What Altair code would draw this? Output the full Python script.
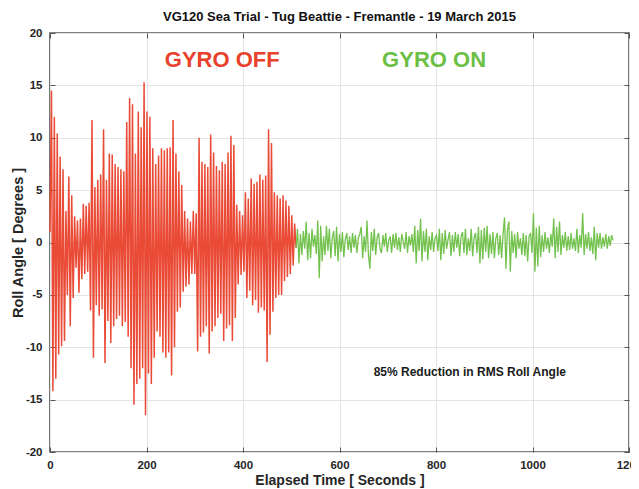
import altair as alt
import pandas as pd

# ---------------- data ----------------
SAMPLE_S = 3          # sample spacing of the roll record, seconds
RED_START = 0         # gyro off record starts (s)
GREEN_START = 510     # gyro on record starts (s)

red_roll = [
    1.0, 14.5, -14.2, 12.0, -13.0, 10.4, -10.7, 8.2, -9.9, 7.0,
    -9.4, 3.0, -5.0, 6.3, -8.0, 4.5, -5.3, 2.5, -2.4, 2.1,
    -4.8, 2.3, -3.5, 3.7, -3.0, 3.5, -2.8, 3.8, -6.5, 11.7,
    -11.0, 5.3, -6.0, 6.0, -7.0, 6.5, -6.4, 10.8, -11.5, 6.0,
    -7.5, 8.5, -9.6, 8.4, -8.0, 7.5, -7.3, 7.2, -7.0, 7.0,
    -8.0, 6.8, -7.6, 11.5, -9.0, 13.8, -12.0, 13.2, -15.5, 8.5,
    -13.5, 12.5, -13.0, 11.0, -12.0, 15.3, -16.5, 12.5, -12.5, 12.0,
    -13.5, 9.0, -11.0, 7.5, -8.5, 8.3, -9.0, 9.0, -10.5, 8.8,
    -11.0, 9.0, -10.5, 9.1, -12.7, 11.7, -10.0, 8.5, -6.6, 6.8,
    -6.2, 5.5, -4.7, 3.0, -4.2, 2.3, -4.0, 2.0, -3.0, 3.0,
    -3.0, 2.8, -10.4, 10.0, -9.0, 7.7, -8.6, 7.5, -8.0, 7.2,
    -10.6, 10.3, -8.5, 8.6, -8.0, 7.3, -7.2, 6.9, -6.8, 7.7,
    -9.4, 7.5, -8.2, 8.6, -7.9, 10.2, -9.4, 9.3, -7.2, 3.6,
    -4.0, 3.0, -3.1, 2.6, -2.8, 4.8, -5.3, 4.2, -4.6, 6.1,
    -6.0, 5.6, -5.5, 5.8, -6.7, 6.5, -6.2, 6.0, -6.5, 6.4,
    -11.4, 10.8, -8.8, 9.5, -6.6, 4.8, -5.3, 4.5, -5.0, 4.2,
    -5.0, 4.5, -3.7, 4.0, -3.3, 3.5, -3.0, 2.6, -2.2, 1.8,
    -0.5,
]

green_roll = [
    -0.5, 1.3, -2.0, 0.8, -1.2, 1.1, -0.6, 2.0, -1.7, 0.9,
    -1.5, 1.3, -0.4, 0.7, -1.1, 2.1, -3.4, 1.6, -1.8, 0.6,
    -1.2, 1.6, -0.8, 1.3, -1.5, 0.4, 1.1, -1.3, 1.5, -1.8,
    0.8, -0.9, 1.0, -1.4, 0.3, 0.9, -0.7, 0.6, -1.0, 0.9,
    -0.5, 0.7, -1.0, 0.4, 0.8, 1.5, -1.5, 0.6, -0.9, 2.1,
    -1.2, -2.5, 1.0, -0.8, 1.3, -1.2, 0.5, 0.9, -0.6, -1.0,
    0.7, -0.4, 0.9, -0.9, 0.2, 0.6, -1.0, 0.8, -0.5, 0.9,
    -0.7, 0.5, -0.9, 0.8, 0.1, -0.6, 1.0, -1.0, 0.6, -0.3,
    0.8, -0.9, 1.6, -2.0, 1.2, -0.8, 2.3, -1.8, 1.1, -0.9,
    1.3, -1.7, 0.6, -0.7, 1.0, -0.9, 0.4, 0.7, -0.8, 1.3,
    -1.7, 0.9, -1.1, 1.2, -0.6, 0.3, 1.0, -1.3, 0.7, -0.9,
    1.0, -0.5, 0.8, -1.3, 0.6, 1.0, -1.0, 1.3, -1.2, 0.4,
    -0.8, 1.3, -1.3, 0.5, 0.9, -1.0, 1.5, -2.0, 1.2, -1.6,
    1.4, -0.9, 1.6, -1.5, 0.8, -1.1, 1.0, -1.5, 0.4, 0.9,
    -1.2, 0.7, -1.5, 0.8, 2.4, -2.5, 1.2, 2.0, -2.8, 1.1,
    -1.0, 0.8, -1.5, 1.0, -0.6, 0.4, -1.2, 0.9, -1.3, 0.7,
    -1.8, 0.6, 0.9, -1.0, 2.8, -2.8, 1.4, -2.3, 1.6, -1.4,
    0.7, -0.9, 1.0, -0.6, 0.5, -1.0, 0.8, -0.4, 2.3, -1.5,
    1.5, -0.9, 2.0, -1.2, 0.7, -0.5, 1.0, -0.8, 0.6, -0.7,
    0.9, -0.6, 0.4, -0.8, 1.3, -1.0, 0.7, -0.5, 2.8, -1.2,
    0.8, -0.6, 1.0, -0.8, 0.5, -1.1, 1.5, -1.7, 0.9, -0.5,
    0.9, -0.6, 0.5, -0.4, 0.8, -0.6, 0.6, -0.3, 0.7, 0.2,
]

x_ticks = [0, 200, 400, 600, 800, 1000, 1200]
y_ticks = [-20, -15, -10, -5, 0, 5, 10, 15, 20]

note_text = ["GYRO OFF", "GYRO ON", "85% Reduction in RMS Roll Angle"]
note_t = [357, 796, 870]
note_v = [16.8, 16.8, -12.75]
note_color = ["#e8412c", "#6cbf45", "#1a1a1a"]
note_size = [22, 22, 12]

TITLE = "VG120 Sea Trial - Tug Beattie - Fremantle - 19 March 2015"
RED = "#e8412c"
GREEN = "#6cbf45"
FONT = "Liberation Sans"
INK = "#262626"
FRAME = "#555555"

# ---------------- tables ----------------
red_df = pd.DataFrame({
    "t": [RED_START + i * SAMPLE_S for i in range(len(red_roll))],
    "roll": red_roll,
})
green_df = pd.DataFrame({
    "t": [GREEN_START + i * SAMPLE_S for i in range(len(green_roll))],
    "roll": green_roll,
})
notes_df = pd.DataFrame({
    "t": note_t, "v": note_v, "text": note_text,
    "color": note_color, "size": note_size,
})

x_scale = alt.Scale(domain=[0, 1200], nice=False, zero=False)
y_scale = alt.Scale(domain=[-20, 20], nice=False, zero=False)

x_axis_bottom = alt.Axis(
    values=x_ticks, title="Elapsed Time [ Seconds ]", orient="bottom",
    labelFont=FONT, labelFontWeight="bold", labelFontSize=11.5, labelColor=INK,
    labelFlush=False, labelPadding=7, labelExpr="'' + datum.value",
    titleFont=FONT, titleFontSize=14, titleFontWeight="bold", titleColor=INK,
    titlePadding=3,
    domain=False, ticks=True, tickSize=5, offset=-5, tickColor=FRAME, tickWidth=1,
    grid=True, gridColor="#e4e4e4", gridWidth=1,
)
y_axis_left = alt.Axis(
    values=y_ticks, title="Roll Angle [ Degrees ]", orient="left",
    labelFont=FONT, labelFontWeight="bold", labelFontSize=11.5, labelColor=INK,
    labelFlush=False, labelPadding=8, labelExpr="'' + datum.value",
    titleFont=FONT, titleFontSize=14.5, titleFontWeight="bold", titleColor=INK,
    titlePadding=0,
    domain=False, ticks=True, tickSize=5, offset=-5, tickColor=FRAME, tickWidth=1,
    grid=True, gridColor="#e4e4e4", gridWidth=1,
)
x_axis_top = alt.Axis(
    values=x_ticks, title=None, orient="top", labels=False, domain=False,
    ticks=True, tickSize=5, offset=-5, tickColor=FRAME, tickWidth=1, grid=False,
)
y_axis_right = alt.Axis(
    values=y_ticks, title=None, orient="right", labels=False, domain=False,
    ticks=True, tickSize=5, offset=-5, tickColor=FRAME, tickWidth=1, grid=False,
)

red_line = alt.Chart(red_df).mark_line(color=RED, strokeWidth=1.5, opacity=0.95).encode(
    x=alt.X("t:Q", scale=x_scale, axis=x_axis_bottom),
    y=alt.Y("roll:Q", scale=y_scale, axis=y_axis_left),
)
green_line = alt.Chart(green_df).mark_line(color=GREEN, strokeWidth=1.3, opacity=0.95).encode(
    x=alt.X("t:Q", scale=x_scale, axis=x_axis_top),
    y=alt.Y("roll:Q", scale=y_scale, axis=y_axis_right),
)
notes = alt.Chart(notes_df).mark_text(
    font=FONT, fontWeight="bold", align="center", baseline="alphabetic"
).encode(
    x=alt.X("t:Q", scale=x_scale, axis=None),
    y=alt.Y("v:Q", scale=y_scale, axis=None),
    text="text:N",
    color=alt.Color("color:N", scale=None),
    size=alt.Size("size:Q", scale=None),
)

chart = (
    alt.layer(red_line, green_line, notes)
    .resolve_axis(x="independent", y="independent")
    .properties(
        width=579,
        height=419,
        title=alt.TitleParams(
            TITLE, font=FONT, fontSize=13, fontWeight="bold", color="#111111",
            anchor="middle", offset=3,
        ),
        autosize=alt.AutoSizeParams(type="none"),
        padding={"left": 42, "top": 25, "right": 2, "bottom": 42},
        background="white",
    )
    .configure_view(stroke=FRAME, strokeWidth=1.6)
)

chart.save("out.html", embed_options={"renderer": "svg", "actions": False})
